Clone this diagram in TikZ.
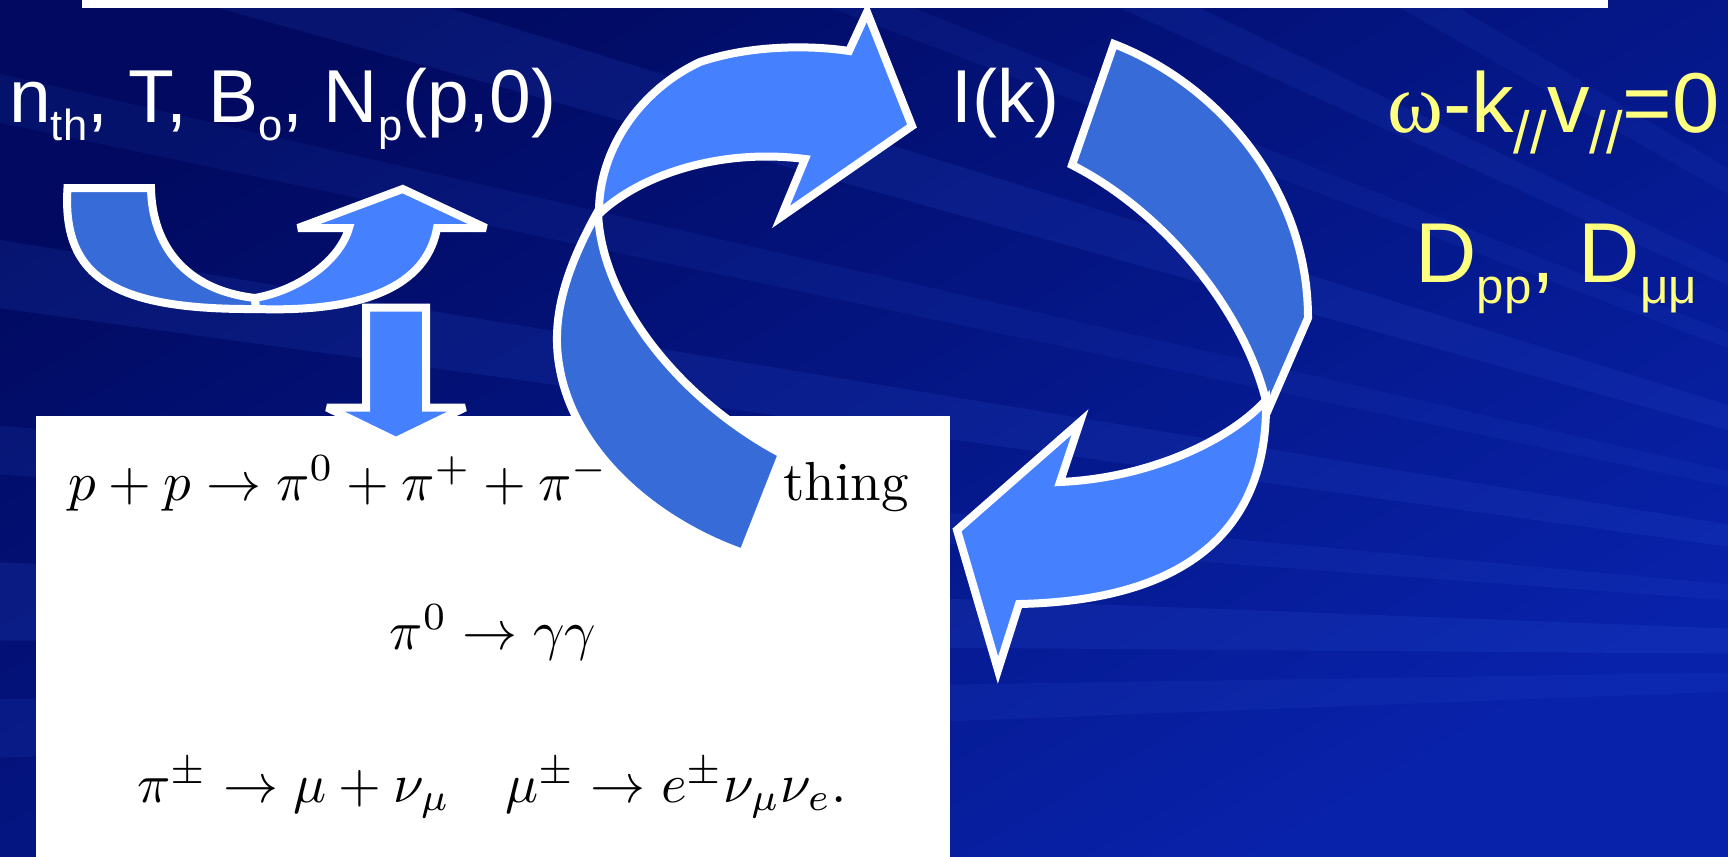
\documentclass[tikz,border=0pt]{standalone}
\usepackage{fontspec}
\usepackage{graphicx}
\newfontfamily\arialfont{Liberation Sans}
\newfontfamily\timesfont{Liberation Serif}
\newcommand{\lowsub}[2][0.58]{\raisebox{-0.25em}{\scalebox{#1}{#2}}}
\newcommand{\bigeq}[1]{\scalebox{5.5}{#1}}

\definecolor{bgdark}{RGB}{1,10,96}
\definecolor{bgmid}{RGB}{3,22,140}
\definecolor{bglight}{RGB}{8,34,170}
\definecolor{raylight}{RGB}{50,90,220}
\definecolor{arrowlight}{RGB}{69,128,255}
\definecolor{arrowdark}{RGB}{55,108,216}
\definecolor{labelyellow}{RGB}{255,255,128}

\tikzset{
  backpart/.style={fill=arrowdark, draw=white, line width=8pt, line join=miter, miter limit=4},
  frontpart/.style={fill=arrowlight, draw=white, line width=8pt, line join=miter, miter limit=4},
  whitelabel/.style={text=white, font=\arialfont\fontsize{75}{82}\selectfont, anchor=base west, inner sep=0pt},
  yellowlabel/.style={text=labelyellow, font=\arialfont\fontsize{85}{94}\selectfont, anchor=base west, inner sep=0pt},
  eqline/.style={text=black, inner sep=0pt}
}

\begin{document}
\begin{tikzpicture}[x=1pt,y=-1pt]
  \useasboundingbox (0,0) rectangle (1728,856);
  % background with rays
  \begin{scope}
    \clip (0,0) rectangle (1728,856);
    \shade[top color=bgdark, middle color=bgmid, bottom color=bglight, shading angle=30] (0,0) rectangle (1728,856);
    \coordinate (rayfocus) at (2550,660);
    \foreach \ya/\yb/\op in {-900/-820/0.10, -600/-530/0.12, -380/-330/0.10, -150/-70/0.14,
                             60/110/0.10, 230/300/0.14, 420/470/0.12, 560/640/0.16, 700/760/0.12}
      \fill[raylight, opacity=\op] (rayfocus) -- (-60,\ya) -- (-60,\yb) -- cycle;
  \end{scope}

  % white boxes
  \fill[white] (82,-2) rectangle (1608,8.5);
  \fill[white] (36,416) rectangle (950,860);

  % reactions
  \node[eqline, anchor=base west] (eqTop) at (68,500) {\bigeq{$p+p\rightarrow\pi^0+\pi^++\pi^-$}};
  \node[eqline, anchor=base west] (eqThing) at (783,500) {\bigeq{thing}};
  \node[eqline, anchor=base] (eqMid) at (493,649) {\bigeq{$\pi^0\rightarrow\gamma\gamma$}};
  \node[eqline, anchor=base] (eqLow) at (492,802) {\bigeq{$\pi^\pm\rightarrow\mu+\nu_\mu\quad\mu^\pm\rightarrow e^\pm\nu_\mu\nu_e.$}};

  % u-turn arrow
  \draw[backpart] (67.5,188) -- (151,188) .. controls (152,245) and (185,290) .. (255,298)
    -- (256,309) .. controls (110,310) and (62,275) .. (67.5,188) -- cycle;
  \draw[frontpart] (255,298) .. controls (300,290) and (340,260) .. (349,228) -- (298,228)
    -- (402.7,189) -- (486,228) -- (437,228) .. controls (425,295) and (345,312) .. (256,309) -- cycle;

  % down arrow
  \draw[frontpart] (366,307.5) -- (426,307.5) -- (426,407.5) -- (465,407.5) -- (396,441)
    -- (327,407.5) -- (366,407.5) -- cycle;

  % cycle arrows
  \draw[backpart] (598,211) .. controls (565,270) and (550,320) .. (560,370)
    .. controls (575,450) and (650,520) .. (743,553) -- (782,454)
    .. controls (680,400) and (600,300) .. (598,211) -- cycle;
  \draw[frontpart] (599,214) .. controls (598,150) and (640,90) .. (700,62)
    .. controls (750,45) and (810,45) .. (849,51) -- (867,12) -- (912,126) -- (781,217)
    -- (805,159) .. controls (720,148) and (640,175) .. (599,214) -- cycle;
  \draw[backpart] (1114,44) .. controls (1220,85) and (1308,190) .. (1308,318) -- (1268,410)
    .. controls (1250,320) and (1170,215) .. (1072,165) -- cycle;
  \draw[frontpart] (1266,400) .. controls (1268,510) and (1210,600) .. (1019,604) -- (998,670)
    -- (957,530) -- (1080,422) -- (1060,482) .. controls (1150,478) and (1230,440) .. (1266,400) -- cycle;

  % labels
  \node[whitelabel] (lblInputs) at (9,122) {n\lowsub{th}, T, B\lowsub{o}, N\lowsub{p}(p,0)};
  \node[whitelabel] (lblWave) at (951,122) {I(k)};
  \node[yellowlabel] (lblRes) at (1387,132) {{\timesfont ω}-k\lowsub[0.7]{//}v\lowsub[0.7]{//}=0};
  \node[yellowlabel] (lblDiff) at (1415,282) {D\lowsub{pp}, D\lowsub{μμ}};
\end{tikzpicture}
\end{document}
